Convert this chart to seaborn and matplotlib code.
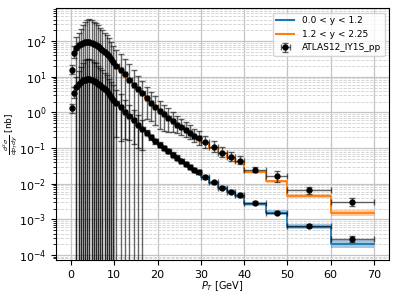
import numpy as np
import matplotlib
matplotlib.use("Agg")
import matplotlib.pyplot as plt
import seaborn as sns
from matplotlib.lines import Line2D

# ---------------- data ----------------
data_edges = [0.0, 0.5, 1.0, 1.5, 2.0, 2.5, 3.0, 3.5, 4.0, 4.5, 5.0, 5.5, 6.0, 6.5, 7.0, 7.5,
              8.0, 8.5, 9.0, 9.5, 10.0, 11, 12, 13, 14, 15, 16, 17, 18, 19, 20, 21, 22, 23,
              24, 25, 26, 27, 28, 29, 30, 32, 34, 36, 38, 40, 45, 50, 60, 70]

upper_vals = [16, 48, 66, 76, 84, 89, 93, 95, 94, 91, 86, 80, 73, 65, 58, 51, 44, 38, 32, 26,
              20, 15.5, 11.8, 8.4, 5.8, 4.5, 3.5, 2.6, 1.9, 1.45, 1.1, 0.88, 0.7, 0.57, 0.46,
              0.38, 0.32, 0.27, 0.22, 0.19,
              0.145, 0.105, 0.072, 0.055, 0.043,
              0.025, 0.016, 0.0065, 0.003]
upper_err_hi_rel = [0.35, 0.5, 1.0, 1.3, 1.7, 2.2, 2.7, 3.2, 3.4, 3.3, 3.15, 3.0, 2.85, 2.7, 2.55,
                    2.4, 2.3, 2.15, 2.0, 1.85,
                    1.8, 1.75, 1.7, 1.7, 1.6, 1.4, 1.2, 1.0, 0.95, 0.95, 0.95, 0.9, 0.85, 0.8,
                    0.75, 0.7, 0.65, 0.6, 0.6, 0.55,
                    0.5, 0.5, 0.5, 0.45, 0.4,
                    0.15, 0.4, 0.25, 0.33]
upper_err_lo_rel = [0.25, 0.3, 1.0, 1.0, 1.0, 1.0, 1.0, 1.0, 1.0, 1.0, 1.0, 1.0, 1.0, 1.0, 1.0,
                    1.0, 1.0, 1.0, 1.0, 1.0,
                    0.99, 0.99, 0.985, 0.98, 0.978, 0.977, 0.975, 0.75, 0.7, 0.7, 0.68, 0.66,
                    0.6, 0.5, 0.42, 0.38, 0.36, 0.35, 0.34, 0.34,
                    0.3, 0.25, 0.22, 0.2, 0.18,
                    0.12, 0.28, 0.2, 0.23]

lower_vals = [1.3, 3.6, 5.1, 6.3, 7.2, 7.9, 8.4, 8.7, 8.6, 8.3, 7.8, 7.2, 6.5, 5.8, 5.1, 4.5,
              3.9, 3.3, 2.8, 2.3,
              1.8, 1.4, 1.05, 0.78, 0.6, 0.46, 0.35, 0.27, 0.2, 0.155, 0.125, 0.1, 0.082,
              0.066, 0.054, 0.044, 0.036, 0.03, 0.025, 0.021,
              0.0155, 0.011, 0.0078, 0.006, 0.0049,
              0.0029, 0.00156, 0.00067, 0.00028]
lower_err_hi_rel = [0.3, 0.4, 1.0, 1.3, 1.7, 2.1, 2.5, 2.6, 2.6, 2.5, 2.4, 2.3, 2.2, 2.1, 2.0,
                    1.9, 1.8, 1.7, 1.6, 1.5,
                    1.4, 1.3, 1.2, 1.1, 1.0, 0.9, 0.8, 0.2, 0.2, 0.18, 0.18, 0.16, 0.16, 0.15,
                    0.15, 0.14, 0.14, 0.13, 0.13, 0.13,
                    0.12, 0.12, 0.12, 0.12, 0.12,
                    0.1, 0.1, 0.12, 0.2]
lower_err_lo_rel = [0.25, 0.3, 1.0, 1.0, 1.0, 1.0, 1.0, 1.0, 1.0, 1.0, 1.0, 1.0, 1.0, 1.0, 1.0,
                    1.0, 1.0, 1.0, 1.0, 1.0,
                    1.0, 1.0, 1.0, 1.0, 1.0, 1.0, 1.0, 0.15, 0.15, 0.14, 0.14, 0.13, 0.13,
                    0.12, 0.12, 0.12, 0.11, 0.11, 0.11, 0.11,
                    0.11, 0.11, 0.11, 0.11, 0.11,
                    0.09, 0.09, 0.1, 0.17]

theory_edges = [10, 11, 12, 13, 14, 15, 16, 17, 18, 19, 20, 21, 22, 23, 24, 25, 26, 27, 28, 29,
                30, 32, 34, 36, 38, 40, 45, 50, 60, 70]
theory_forward = [21, 15.8, 11.6, 8.5, 6.2, 4.6, 3.45, 2.6, 1.95, 1.5, 1.15, 0.9, 0.72, 0.58,
                  0.47, 0.385, 0.32, 0.265, 0.22, 0.185,
                  0.14, 0.1, 0.072, 0.053, 0.04,
                  0.022, 0.0116, 0.0046, 0.0015]
theory_forward_band = [0.08, 0.08, 0.08, 0.08, 0.08, 0.08, 0.08, 0.08, 0.08, 0.08, 0.08, 0.08,
                       0.08, 0.08, 0.08, 0.08, 0.08, 0.08, 0.08, 0.08,
                       0.08, 0.08, 0.08, 0.08, 0.08,
                       0.08, 0.1, 0.12, 0.2]
theory_central = [1.85, 1.4, 1.04, 0.78, 0.59, 0.45, 0.35, 0.27, 0.205, 0.158, 0.124, 0.098,
                  0.079, 0.064, 0.052, 0.043, 0.035, 0.029, 0.024, 0.02,
                  0.0152, 0.0108, 0.0077, 0.0058, 0.0046,
                  0.0027, 0.00155, 0.00063, 0.0002]
theory_central_band = [0.1, 0.1, 0.1, 0.1, 0.1, 0.1, 0.1, 0.1, 0.1, 0.1, 0.1, 0.1,
                       0.1, 0.1, 0.1, 0.1, 0.1, 0.1, 0.1, 0.12,
                       0.12, 0.12, 0.12, 0.14, 0.14,
                       0.15, 0.15, 0.15, 0.3]

label_central = "0.0 < y < 1.2"
label_forward = "1.2 < y < 2.25"
label_data = "ATLAS12_IY1S_pp"
xlabel = r"$P_T$ [GeV]"
ylabel = r"$\frac{d^2\sigma}{dp_Tdy}$ [nb]"

# ---------------- plot ----------------
plt.rcParams["font.size"] = 8
fig = plt.figure(figsize=(3.99, 2.99), dpi=100)
ax = fig.add_axes([0.14, 0.13, 0.835, 0.843])

blue = "#1f77b4"
orange = "#ff7f0e"

def draw_theory(vals, band, color, label):
    e = np.asarray(theory_edges, float)
    v = np.asarray(vals, float)
    b = np.asarray(band, float)
    v_ext = np.append(v, v[-1])
    b_ext = np.append(b, b[-1])
    sns.lineplot(x=e, y=v_ext, drawstyle="steps-post", color=color, lw=1.3, ax=ax,
                 errorbar=None, label=label)
    ax.fill_between(e, v_ext / (1 + b_ext), v_ext * (1 + b_ext), step="post",
                    color=color, alpha=0.4, lw=0)

draw_theory(theory_central, theory_central_band, blue, label_central)
draw_theory(theory_forward, theory_forward_band, orange, label_forward)

edges = np.asarray(data_edges, float)
xc = 0.5 * (edges[1:] + edges[:-1])
xw = 0.5 * (edges[1:] - edges[:-1])

handle = None
for vals, hi, lo, lab in [(upper_vals, upper_err_hi_rel, upper_err_lo_rel, label_data),
                          (lower_vals, lower_err_hi_rel, lower_err_lo_rel, None)]:
    v = np.asarray(vals, float)
    yerr = np.vstack([v * np.asarray(lo, float), v * np.asarray(hi, float)])
    h = ax.errorbar(xc, v, yerr=yerr, xerr=xw, fmt="o", color="black", ms=3.5,
                    ecolor=(0, 0, 0, 0.6), elinewidth=1.0, capsize=2, capthick=1.0,
                    label=lab, zorder=3)
    if lab is not None:
        handle = h

ax.set_yscale("log")
ax.set_xlim(-3.5, 73.5)
ax.set_ylim(7.2e-5, 850)
ax.set_xticks([0, 10, 20, 30, 40, 50, 60, 70])
ax.grid(which="major", color="#c4c4c4", lw=0.9)
ax.grid(which="minor", color="#d0d0d0", lw=0.6, ls="--")
ax.set_axisbelow(True)
ax.set_xlabel(xlabel, fontsize=7)
ax.set_ylabel(ylabel, fontsize=6.5)
ax.xaxis.set_label_coords(0.5, -0.075)
ax.yaxis.set_label_coords(-0.108, 0.5)

hl = [Line2D([], [], color=blue, lw=1.5), Line2D([], [], color=orange, lw=1.5), handle]
ax.legend(hl, [label_central, label_forward, label_data], loc="upper right", fontsize=6.5)

fig.savefig("out.png", dpi=100)
